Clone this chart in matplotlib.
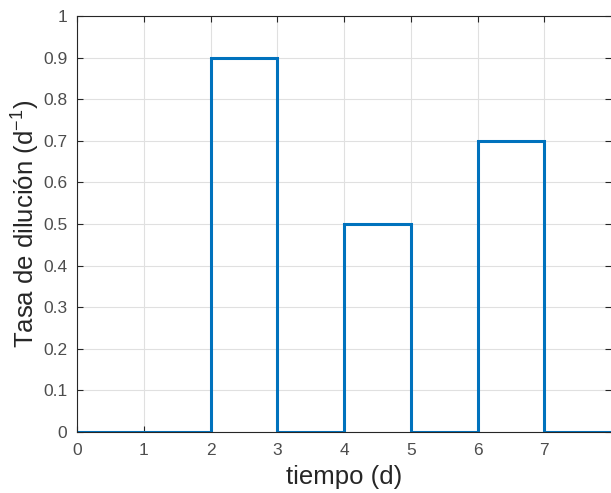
import numpy as np
import matplotlib.pyplot as plt

plt.rcParams['font.family'] = ['Liberation Sans', 'DejaVu Sans']
plt.rcParams['mathtext.fontset'] = 'custom'
plt.rcParams['mathtext.rm'] = 'Liberation Sans'
plt.rcParams['mathtext.it'] = 'Liberation Sans'

# step edges (d) and dilution rate levels (1/d)
t_edges = [0, 2, 3, 4, 5, 6, 7, 8]
D_vals = [0, 0.9, 0, 0.5, 0, 0.7, 0]

fig = plt.figure(figsize=(6.11, 4.93), dpi=100)
ax = fig.add_axes([77/611, 61/493, 1 - 77/611, (432 - 16)/493])

ax.stairs(D_vals, t_edges, color='#0072BD', linewidth=2.2)

ax.set_xlim(0, 8)
ax.set_ylim(0, 1)
ax.set_xticks(range(0, 8))
ax.set_yticks(np.arange(0, 1.01, 0.1))
ax.set_yticklabels(['0', '0.1', '0.2', '0.3', '0.4', '0.5', '0.6', '0.7', '0.8', '0.9', '1'])

ax.grid(True, color='#e0e0e0', linewidth=0.8)
ax.set_axisbelow(True)
for s in ['left', 'bottom', 'top']:
    ax.spines[s].set_color('#262626')
    ax.spines[s].set_linewidth(0.8)
ax.spines['right'].set_visible(False)
ax.tick_params(direction='in', top=True, right=True, color='#262626',
               labelcolor='#4d4d4d', labelsize=12.5, length=4, width=0.8)
ax.tick_params(axis='x', pad=8)
ax.tick_params(axis='y', pad=7)

ax.set_xlabel('tiempo (d)', fontsize=18.5, color='#262626', labelpad=5)
ax.set_ylabel('Tasa de dilución (d$^{-1}$)', fontsize=18.5, color='#262626', labelpad=1)

fig.savefig('out.png', dpi=100)
